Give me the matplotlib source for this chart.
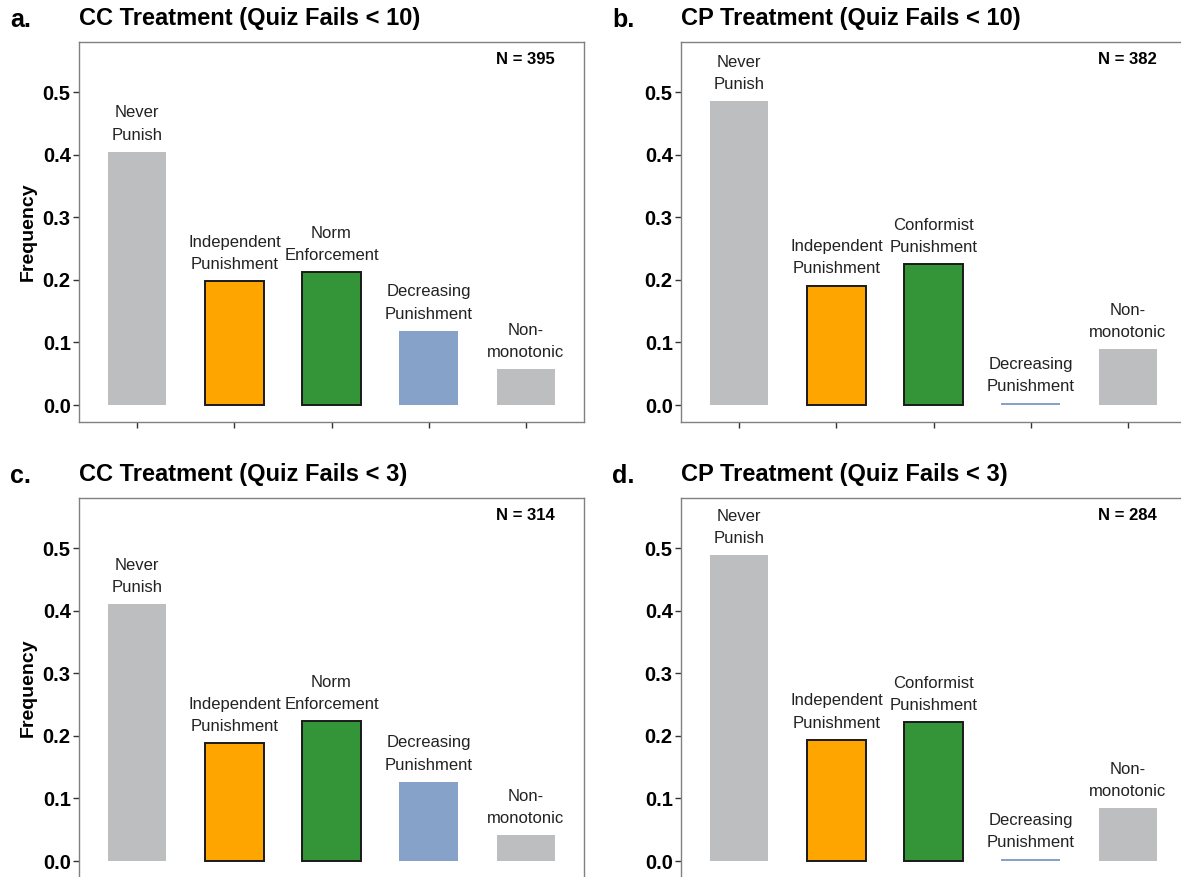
import matplotlib
matplotlib.use("Agg")
import matplotlib.pyplot as plt

plt.rcParams['font.family'] = ['Liberation Sans', 'DejaVu Sans']

# ---- data ----
cats_cc = ["Never\nPunish", "Independent\nPunishment", "Norm\nEnforcement",
           "Decreasing\nPunishment", "Non-\nmonotonic"]
cats_cp = ["Never\nPunish", "Independent\nPunishment", "Conformist\nPunishment",
           "Decreasing\nPunishment", "Non-\nmonotonic"]

vals_a = [0.405, 0.198, 0.213, 0.119, 0.058]
vals_b = [0.485, 0.191, 0.225, 0.003, 0.089]
vals_c = [0.411, 0.188, 0.223, 0.127, 0.041]
vals_d = [0.489, 0.194, 0.222, 0.003, 0.085]

n_a, n_b, n_c, n_d = 395, 382, 314, 284

titles = ["CC Treatment (Quiz Fails < 10)", "CP Treatment (Quiz Fails < 10)",
          "CC Treatment (Quiz Fails < 3)", "CP Treatment (Quiz Fails < 3)"]
letters = ["a.", "b.", "c.", "d."]
yticks = [0.0, 0.1, 0.2, 0.3, 0.4, 0.5]

# ---- styling ----
bar_colors = ["#BDBEC0", "#FFA500", "#339538", "#87A2C8", "#BDBEC0"]
edge_colors = ["none", "#1a1a1a", "#1a1a1a", "none", "none"]
edge_widths = [0, 1.4, 1.4, 0, 0]

W, H = 1181, 877
fig = plt.figure(figsize=(W / 100, H / 100), dpi=100)

panel_px = [(79, 42), (681, 42), (79, 498), (681, 498)]
aw, ah = 505, 380

panels = [
    (vals_a, cats_cc, n_a, True),
    (vals_b, cats_cp, n_b, False),
    (vals_c, cats_cc, n_c, True),
    (vals_d, cats_cp, n_d, False),
]

for i, ((vals, cats, n, ylab), (px, py)) in enumerate(zip(panels, panel_px)):
    ax = fig.add_axes([px / W, 1 - (py + ah) / H, aw / W, ah / H])
    x = list(range(len(vals)))
    ax.bar(x, vals, width=0.6, color=bar_colors, edgecolor=edge_colors,
           linewidth=edge_widths, zorder=2)
    for xi, v, lab in zip(x, vals, cats):
        ax.annotate(lab, (xi, v), xytext=(0, 6.5), textcoords="offset points",
                    ha="center", va="bottom", fontsize=12, color="#222222",
                    linespacing=1.6)
    ax.set_xlim(-0.6, 4.6)
    ax.set_ylim(-0.027, 0.58)
    ax.set_xticks(x)
    ax.set_xticklabels([""] * len(x))
    ax.set_yticks(yticks)
    ax.set_yticklabels([f"{t:.1f}" for t in yticks], fontsize=14.5,
                       fontweight="bold")
    ax.tick_params(axis="both", length=4, width=1, color="#333333", pad=2)
    for s in ax.spines.values():
        s.set_color("#808080")
        s.set_linewidth(1.0)
    ax.text(0.943, 0.955, f"N = {n}", transform=ax.transAxes, ha="right",
            va="center", fontsize=12, fontweight="bold")
    if ylab:
        ax.set_ylabel("Frequency", fontsize=14, fontweight="bold", labelpad=4)
    # titles
    fig.text(px / W, 1 - (py - 23) / H, titles[i], ha="left", va="center",
             fontsize=17, fontweight="bold")
    fig.text((px - 69) / W, 1 - (py - 22) / H, letters[i], ha="left",
             va="center", fontsize=18, fontweight="bold")

fig.savefig("out.png", dpi=100)
